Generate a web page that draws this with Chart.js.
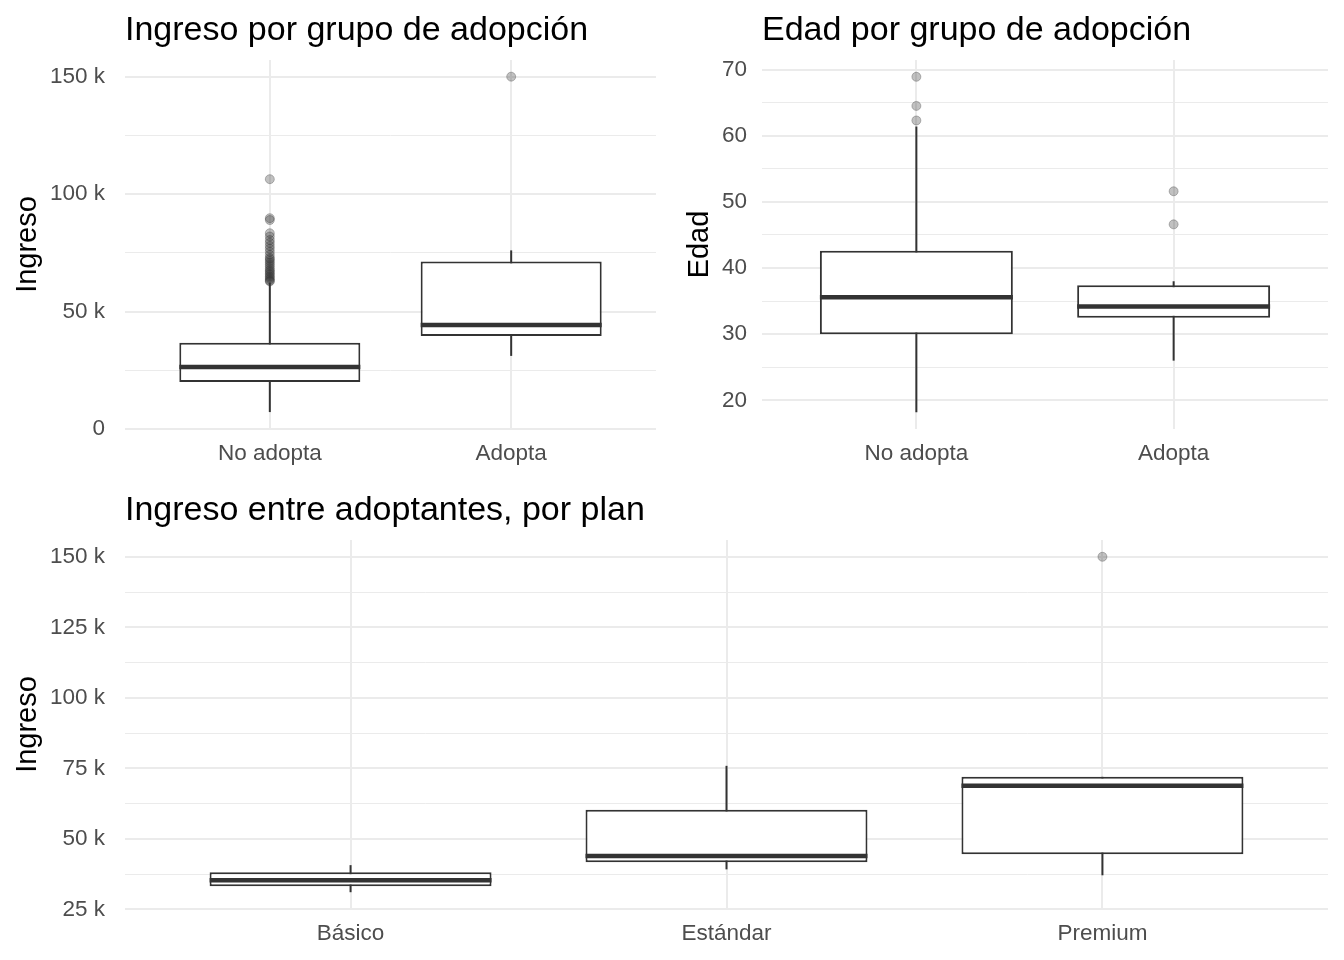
<!DOCTYPE html>
<html>
<head>
<meta charset="utf-8">
<script src="https://cdn.jsdelivr.net/npm/chart.js@4.4.1/dist/chart.umd.min.js"></script>
<style>
  body { margin: 0; background: #fff; }
  canvas { position: absolute; }
</style>
</head>
<body>
<canvas id="c1" width="672" height="480" style="left:0;top:0"></canvas>
<canvas id="c2" width="672" height="480" style="left:672px;top:0"></canvas>
<canvas id="c3" width="1344" height="480" style="left:0;top:480px"></canvas>
<script>
// --- data (ingreso en miles) ---
const grupos = ["No adopta", "Adopta"];

const ingresoLo = [7.3, 31.2];
const ingresoQ1 = [20.1, 39.7];
const ingresoMed = [26.5, 44.4];
const ingresoQ3 = [36.8, 71.4];
const ingresoHi = [62.4, 76.1];
const ingresoOut = [
  [106.4, 89.8, 89.0, 83.4, 82.0, 80.5, 79.3, 78.0, 76.8, 75.5, 74.2, 73.0,
   72.4, 71.6, 70.8, 70.0, 69.2, 68.3, 67.6, 67.0, 66.3, 65.7, 65.0, 64.4,
   63.8, 63.2, 62.9],
  [150.0],
];

const edadLo = [18.2, 26.0];
const edadQ1 = [30.0, 32.5];
const edadMed = [35.6, 34.2];
const edadQ3 = [42.6, 37.4];
const edadHi = [61.4, 38.0];
const edadOut = [[62.3, 64.5, 68.9], [46.6, 51.6]];

const planes = ["Básico", "Estándar", "Premium"];
const planLo = [31.1, 39.2, 37.1];
const planQ1 = [33.2, 41.7, 44.6];
const planMed = [35.3, 43.9, 68.8];
const planQ3 = [38.2, 60.3, 72.0];
const planHi = [40.7, 75.9, 72.0];
const planOut = [[], [], [150.0]];

const ingresoTicks = [0, 50, 100, 150];
const ingresoMinor = [25, 75, 125];
const edadTicks = [20, 30, 40, 50, 60, 70];
const edadMinor = [25, 35, 45, 55, 65];
const planTicks = [25, 50, 75, 100, 125, 150];
const planMinor = [37.5, 62.5, 87.5, 112.5, 137.5];

const INK = "#333333";
const GRID = "#ebebeb";
const BOX_W = 0.75;
const FONT = "'Liberation Sans', Arial, sans-serif";

const kFmt = (v) => (v === 0 ? "0" : v + " k");

const panelTitle = {
  id: "panelTitle",
  afterDraw(chart, args, opts) {
    const { ctx, chartArea } = chart;
    ctx.save();
    ctx.font = "34px " + FONT;
    ctx.fillStyle = "#000";
    ctx.textBaseline = "alphabetic";
    ctx.fillText(opts.text, chartArea.left, opts.y);
    ctx.restore();
  },
};

function boxChart(id, o) {
  const n = o.cats.length;
  const datasets = [];
  for (let i = 0; i < n; i++) {
    const x = i + 1;
    // whisker
    datasets.push({
      type: "line",
      data: [{ x, y: o.lo[i] }, { x, y: o.hi[i] }],
      borderColor: INK,
      borderWidth: 2,
      pointRadius: 0,
      order: 3,
    });
    // median
    datasets.push({
      type: "line",
      data: [
        { x: x - BOX_W / 2, y: o.med[i] },
        { x: x + BOX_W / 2, y: o.med[i] },
      ],
      borderColor: INK,
      borderWidth: 4.5,
      borderCapStyle: "butt",
      pointRadius: 0,
      order: 1,
    });
  }
  datasets.push({
    type: "bar",
    data: o.cats.map((c, i) => ({ x: i + 1, y: [o.q1[i], o.q3[i]] })),
    backgroundColor: "#fff",
    borderColor: INK,
    borderWidth: 2,
    borderSkipped: false,
    categoryPercentage: 1,
    barPercentage: BOX_W,
    order: 2,
  });
  const pts = [];
  o.out.forEach((arr, i) => arr.forEach((v) => pts.push({ x: i + 1, y: v })));
  datasets.push({
    type: "scatter",
    data: pts,
    pointRadius: 4.5,
    borderWidth: 1,
    backgroundColor: "rgba(51,51,51,0.3)",
    borderColor: "rgba(51,51,51,0.3)",
    order: 0,
  });

  const ticks = [...o.major, ...o.minor].sort((a, b) => a - b);

  return new Chart(document.getElementById(id), {
    type: "scatter",
    data: { datasets },
    plugins: [panelTitle],
    options: {
      responsive: false,
      animation: false,
      events: [],
      layout: { padding: { top: 60, right: 16, bottom: 0, left: 0 } },
      plugins: {
        legend: { display: false },
        tooltip: { enabled: false },
        panelTitle: { text: o.title, y: 40 },
      },
      scales: {
        x: {
          type: "linear",
          min: 0.4,
          max: n + 0.6,
          offset: false,
          afterFit: (s) => { s.height = 51; },
          afterBuildTicks: (s) => {
            s.ticks = o.cats.map((c, i) => ({ value: i + 1 }));
          },
          grid: { color: GRID, lineWidth: 2, drawTicks: false, offset: false },
          border: { display: false },
          ticks: {
            padding: 11,
            color: "#4d4d4d",
            font: { family: FONT, size: 22.5 },
            callback: (v) => o.cats[v - 1],
          },
        },
        y: {
          type: "linear",
          min: o.yMin,
          max: o.yMax,
          offset: false,
          afterFit: (s) => { s.width = o.axisW; },
          afterBuildTicks: (s) => {
            s.ticks = ticks.map((v) => ({ value: v }));
          },
          grid: {
            color: GRID,
            drawTicks: false,
            offset: false,
            lineWidth: (ctx) => (o.major.includes(ctx.tick.value) ? 2 : 1),
          },
          border: { display: false },
          title: {
            display: true,
            text: o.yTitle,
            color: "#000",
            font: { family: FONT, size: 29 },
            padding: { top: 11, bottom: 0 },
          },
          ticks: {
            autoSkip: false,
            padding: o.tickPad,
            color: "#4d4d4d",
            font: { family: FONT, size: 22.5 },
            callback: (v) => (o.major.includes(v) ? o.fmt(v) : ""),
          },
        },
      },
    },
  });
}

boxChart("c1", {
  title: "Ingreso por grupo de adopción",
  yTitle: "Ingreso",
  cats: grupos,
  lo: ingresoLo, q1: ingresoQ1, med: ingresoMed, q3: ingresoQ3, hi: ingresoHi,
  out: ingresoOut,
  yMin: 0.1, yMax: 157.1,
  major: ingresoTicks, minor: ingresoMinor,
  fmt: kFmt, axisW: 125, tickPad: 20,
});

boxChart("c2", {
  title: "Edad por grupo de adopción",
  yTitle: "Edad",
  cats: grupos,
  lo: edadLo, q1: edadQ1, med: edadMed, q3: edadQ3, hi: edadHi,
  out: edadOut,
  yMin: 15.67, yMax: 71.44,
  major: edadTicks, minor: edadMinor,
  fmt: (v) => String(v), axisW: 90, tickPad: 15,
});

boxChart("c3", {
  title: "Ingreso entre adoptantes, por plan",
  yTitle: "Ingreso",
  cats: planes,
  lo: planLo, q1: planQ1, med: planMed, q3: planQ3, hi: planHi,
  out: planOut,
  yMin: 25.15, yMax: 155.95,
  major: planTicks, minor: planMinor,
  fmt: kFmt, axisW: 125, tickPad: 20,
});
</script>
</body>
</html>
